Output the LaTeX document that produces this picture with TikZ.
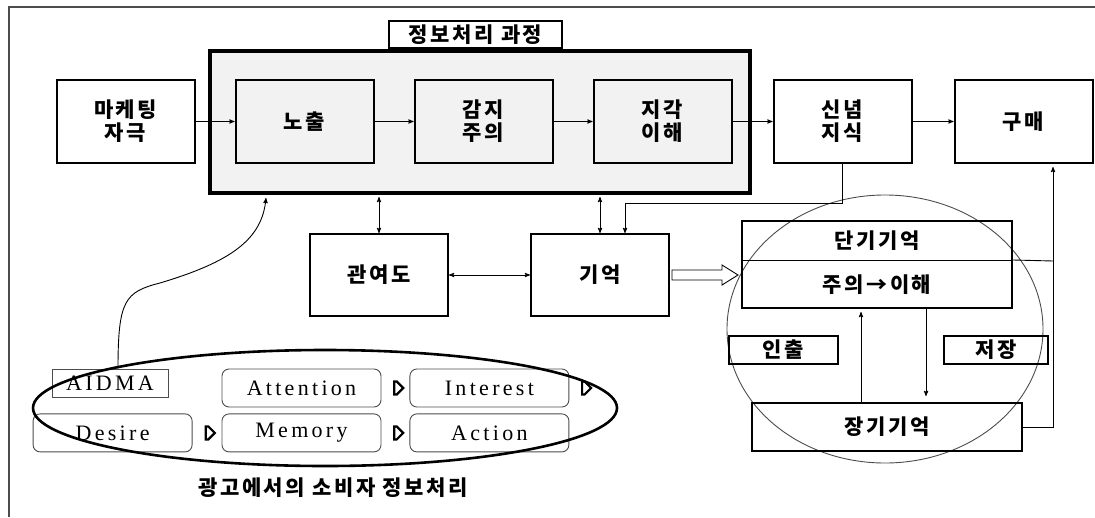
\documentclass[tikz,border=0pt]{standalone}
\usepackage{fontspec}
\setmainfont{Liberation Serif}
\newfontfamily\kr{Noto Sans CJK KR}[LetterSpace=12]
\newfontfamily\aidfont{Liberation Serif}[LetterSpace=15]
\usetikzlibrary{arrows,positioning,calc,shapes.geometric,shapes.arrows}
\definecolor{boxgray}{gray}{0.95}
\definecolor{linegray}{gray}{0.3}
\def\krtext{\kr\bfseries\fontsize{21}{23}\selectfont}
\def\aidtext{\aidfont\fontsize{22}{24}\selectfont}

\begin{document}
\begin{tikzpicture}[x=1pt,y=-1pt,>=stealth',
  main node/.style={draw,line width=2pt,minimum width=138pt,minimum height=83pt,inner sep=0pt,align=center,font=\krtext},
  tag node/.style={draw,line width=1.1pt,inner sep=0pt,font=\krtext},
  mem node/.style={draw,line width=2pt,minimum width=270pt,inner sep=0pt,font=\krtext},
  aida box/.style={draw=linegray,line width=0.9pt,rounded corners=7pt,minimum width=159pt,minimum height=38pt,inner sep=0pt,font=\aidtext},
  aidarr/.style={single arrow,draw,fill=white,line width=2.2pt,minimum height=9pt,minimum width=13pt,single arrow head extend=0pt,inner sep=0pt},
  conn/.style={line width=0.9pt}]
  \useasboundingbox (0,0) rectangle (1095,517);
  \draw[linegray,line width=1.4pt] (9,517) |- (1095,7);

  % processing block
  \node[draw,line width=4pt,fill=boxgray,minimum width=540pt,minimum height=142pt] (proc) at (480,122) {};
  \node[tag node,minimum width=173pt,minimum height=27pt] (title) at (475.5,34.5) {정보처리 과정};

  \node[main node] (mk) at (125.5,121.5) {마케팅\\자극};
  \node[main node,right=39pt of mk] (exp) {노출};
  \node[main node,right=39pt of exp] (sens) {감지\\주의};
  \node[main node,right=39pt of sens] (perc) {지각\\이해};
  \node[main node,right=40pt of perc] (bel) {신념\\지식};
  \node[main node,right=41pt of bel] (buy) {구매};

  \node[main node,minimum height=82pt] (inv) at (379,275) {관여도};
  \node[main node,minimum height=82pt] (mem) at (600,275) {기억};

  \draw[->,conn] (mk) -- (exp);
  \draw[->,conn] (exp) -- (sens);
  \draw[->,conn] (sens) -- (perc);
  \draw[->,conn] (perc) -- (bel);
  \draw[->,conn] (bel) -- (buy);
  \draw[<->,conn,shorten <=2pt] (proc.south -| inv.north) -- (inv.north);
  \draw[<->,conn,shorten <=2pt] (proc.south -| mem.north) -- (mem.north);
  \draw[<->,conn] (inv) -- (mem);

  % memory circle
  \node[draw=linegray,line width=0.9pt,ellipse,minimum width=316pt,minimum height=268pt] (circ) at (885,329) {};
  \node[draw,line width=2pt,minimum width=270pt,minimum height=87pt] (stmbox) at (877,264.5) {};
  \node[font=\krtext] (stm) at (877,241) {단기기억};
  \node[font=\krtext] (att) at (877,284.5) {주의→이해};
  \draw[conn] ($(stmbox.north west)+(0,40)$) -- ($(stmbox.north east)+(0,40)$);
  \node[mem node,minimum height=48pt] (ltm) at (887,427) {장기기억};
  \node[tag node,minimum width=109pt,minimum height=28pt] (ret) at (783.5,350) {인출};
  \node[tag node,minimum width=104pt,minimum height=28pt] (sto) at (996,350) {저장};

  \draw[->,conn,shorten >=3pt] ([xshift=-26pt]ltm.north) -- ([xshift=-26pt]ltm.north |- stmbox.south);
  \draw[->,conn,shorten >=6pt] ([xshift=49pt]stmbox.south) -- ([xshift=49pt]stmbox.south |- ltm.north);

  \coordinate (rj) at (1053,261);
  \coordinate (jn) at (625,203);
  \draw[conn] ($(stmbox.north east)+(0,40)$) -- (rj);
  \draw[->,conn,shorten >=3pt] (ltm.east) -| (buy.south -| rj);
  \draw[->,conn] (bel.south) |- (jn) -- (jn |- mem.north);
  \draw[line width=0.9pt,fill=white] ($(mem.east)+(2,-5)$) -- ++(50,0) -- ++(0,-5) -- ++(16,10) -- ++(-16,10) -- ++(0,-5) -- ++(-50,0) -- cycle;

  % AIDMA
  \node[draw=linegray,line width=0.9pt,minimum width=116pt,minimum height=28pt,inner sep=0pt,font=\aidtext] (aidma) at (110,383) {AIDMA};
  \node[aida box] (attn) at (301.5,388) {Attention};
  \node[aida box,right=28pt of attn] (intr) {Interest};
  \node[aida box,below=6pt of attn] (memo) {Memory};
  \node[aida box,left=29pt of memo] (des) {Desire};
  \node[aida box,right=28pt of memo] (act) {Action};
  \node[aidarr] (a1) at ($(des.east)!0.5!(memo.west)$) {};
  \node[aidarr] (a2) at ($(attn.east)!0.5!(intr.west)$) {};
  \node[aidarr] (a3) at ($(memo.east)!0.5!(act.west)$) {};
  \node[aidarr] (a4) at ($(intr.east)+(14,0)$) {};
  \node[draw,line width=2.6pt,ellipse,minimum width=584pt,minimum height=116pt] (aidell) at (325,408) {};
  \node[font=\krtext] (cap) at (333,488) {광고에서의 소비자 정보처리};

  \draw[->,conn] ($(aidma.north)+(8,0)$) .. controls (118,300) and (125,292) .. (160,283) .. controls (230,262) and (262,240) .. ($(proc.south west)+(58,3)$);
\end{tikzpicture}
\end{document}
